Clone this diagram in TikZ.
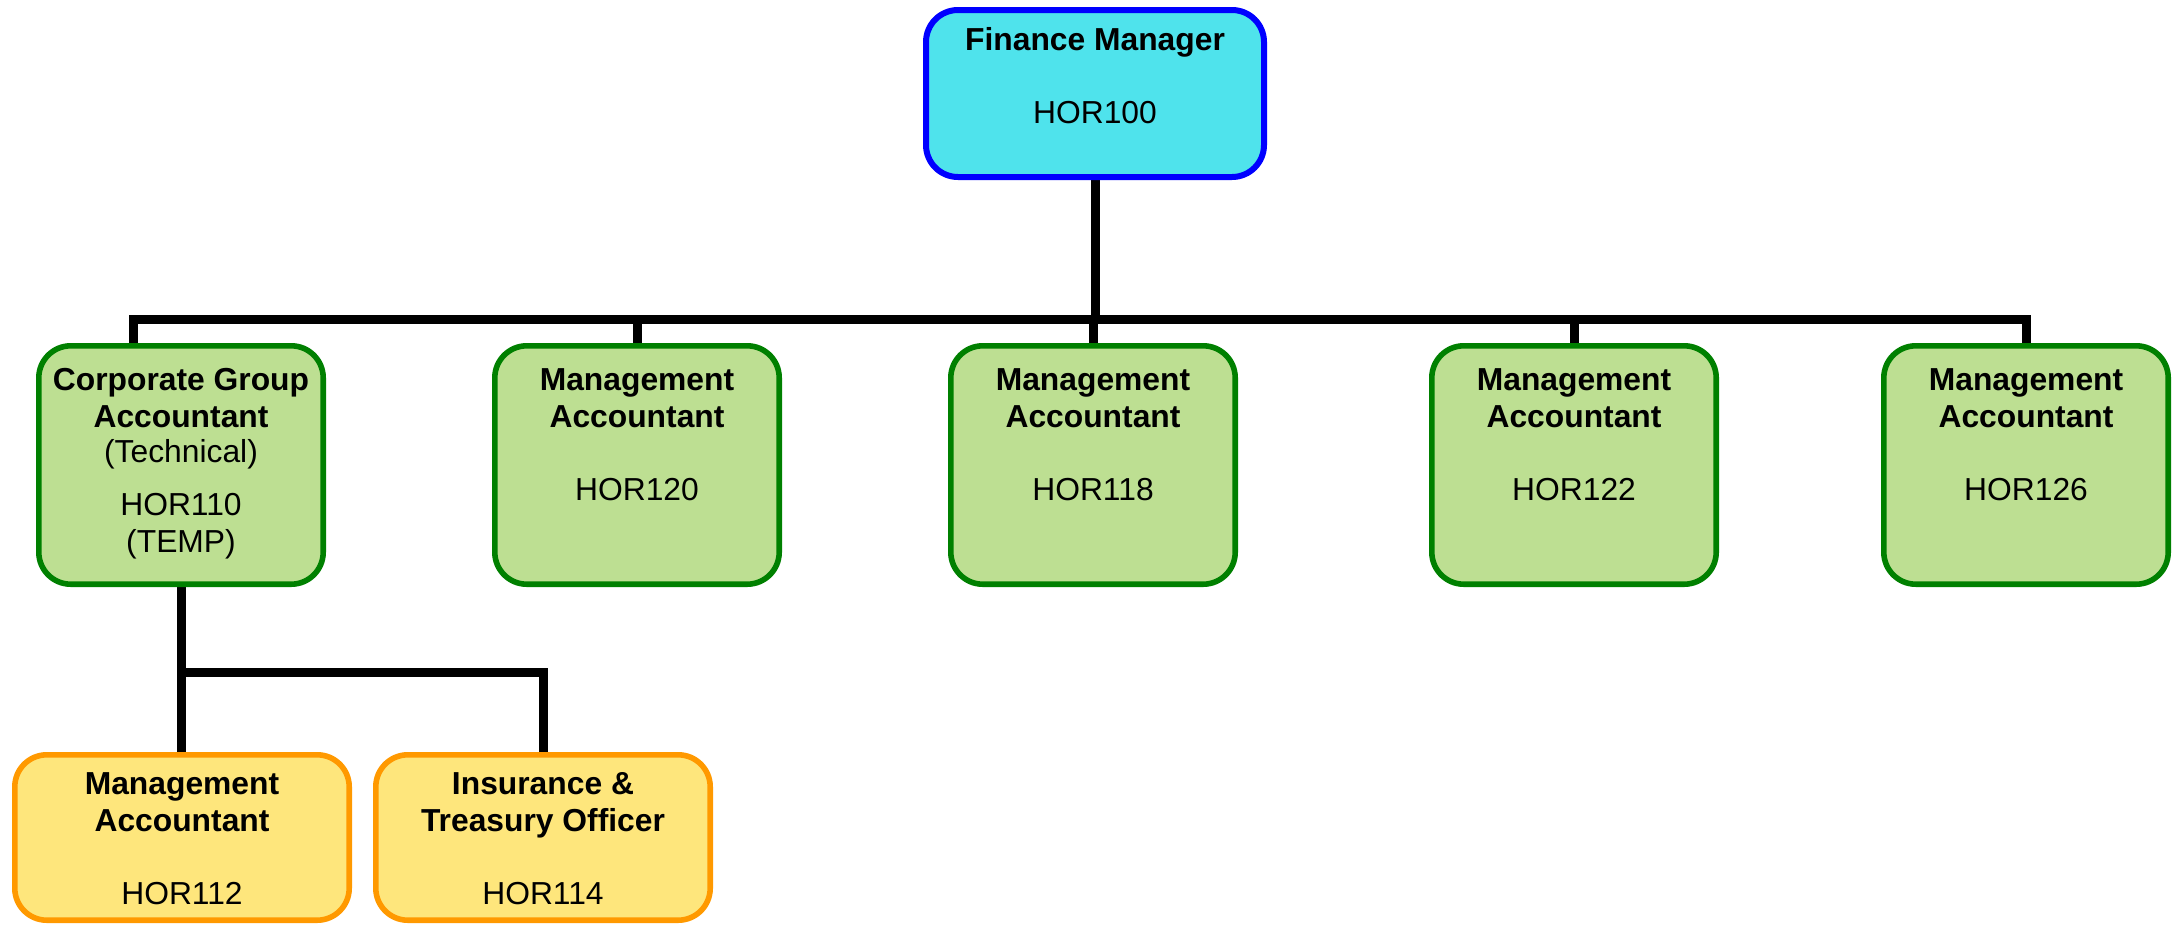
\documentclass[tikz,border=0pt]{standalone}
\usepackage{fontspec}
\setmainfont{Liberation Sans}
\usetikzlibrary{backgrounds}
\definecolor{fmfill}{HTML}{4FE3EC}
\definecolor{fmline}{HTML}{0000FF}
\definecolor{gfill}{HTML}{BDDF92}
\definecolor{gline}{HTML}{008000}
\definecolor{yfill}{HTML}{FEE67C}
\definecolor{yline}{HTML}{FF9900}
\begin{document}
\begin{tikzpicture}[x=0.5pt,y=-0.5pt,
  box/.style={rounded corners=16pt, line width=2.8pt, inner sep=0pt},
  fmbox/.style={box, line width=3pt, draw=fmline, fill=fmfill, minimum width=169pt, minimum height=83.5pt},
  gbox/.style={box, draw=gline, fill=gfill, minimum width=142.2pt, minimum height=119.2pt},
  ybox/.style={box, draw=yline, fill=yfill, minimum width=167.2pt, minimum height=82.7pt},
  ttl/.style={anchor=base, inner sep=0pt, font=\fontsize{15.9}{18.5}\selectfont\bfseries},
  cd/.style={anchor=base, inner sep=0pt, font=\fontsize{15.9}{18.5}\selectfont},
  conn/.style={line width=4.5pt, black, line join=miter}
]
\useasboundingbox (0,0) rectangle (2172,927);

% boxes
\node[fmbox] (fm) at (1095,93.5) {};
\node[gbox] (g1) at (181,465) {};
\node[gbox] (g2) at (637,465) {};
\node[gbox] (g3) at (1093,465) {};
\node[gbox] (g4) at (1574,465) {};
\node[gbox] (g5) at (2026,465) {};
\node[ybox] (y1) at (182,837.5) {};
\node[ybox] (y2) at (543,837.5) {};

% texts
\node[ttl] (t0) at (1095,50) {Finance Manager};
\node[cd] (c0) at (1095,123) {HOR100};

\node[ttl] (t1a) at (181,390) {Corporate Group};
\node[ttl] (t1b) at (181,427) {Accountant};
\node[cd] (t1c) at (181,462) {(Technical)};
\node[cd] (c1a) at (181,515) {HOR110};
\node[cd] (c1b) at (181,552) {(TEMP)};

\node[ttl] (t2a) at (637,390) {Management};
\node[ttl] (t2b) at (637,427) {Accountant};
\node[cd] (c2) at (637,500) {HOR120};

\node[ttl] (t3a) at (1093,390) {Management};
\node[ttl] (t3b) at (1093,427) {Accountant};
\node[cd] (c3) at (1093,500) {HOR118};

\node[ttl] (t4a) at (1574,390) {Management};
\node[ttl] (t4b) at (1574,427) {Accountant};
\node[cd] (c4) at (1574,500) {HOR122};

\node[ttl] (t5a) at (2026,390) {Management};
\node[ttl] (t5b) at (2026,427) {Accountant};
\node[cd] (c5) at (2026,500) {HOR126};

\node[ttl] (t6a) at (182,794) {Management};
\node[ttl] (t6b) at (182,831) {Accountant};
\node[cd] (c6) at (182,904) {HOR112};

\node[ttl] (t7a) at (543,794) {Insurance \&};
\node[ttl] (t7b) at (543,831) {Treasury Officer};
\node[cd] (c7) at (543,904) {HOR114};

% connector coordinates
\coordinate (barL) at (133,319);
\coordinate (subbar) at (181,672);

\begin{scope}[on background layer]
  \draw[conn] (fm.south) -- (fm.south |- barL);
  \draw[conn] (barL |- g1.north) -- (barL) -- (g5.north |- barL) -- (g5.north);
  \draw[conn] (g2.north |- barL) -- (g2.north);
  \draw[conn] (g3.north |- barL) -- (g3.north);
  \draw[conn] (g4.north |- barL) -- (g4.north);
  \draw[conn] (g1.south) -- (g1.south |- y1.north);
  \draw[conn] (subbar) -- (y2.north |- subbar) -- (y2.north);
\end{scope}
\end{tikzpicture}
\end{document}
